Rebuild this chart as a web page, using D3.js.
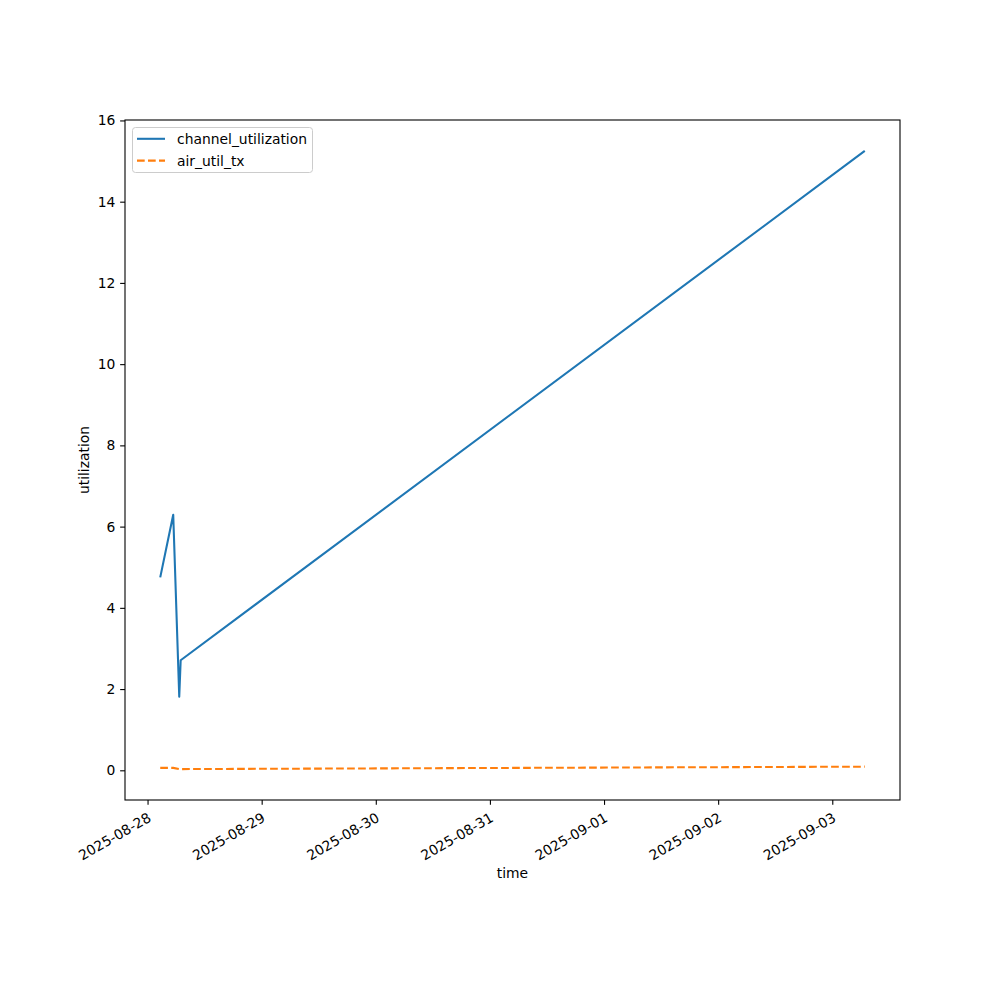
<!DOCTYPE html>
<html><head><meta charset="utf-8">
<script src="https://cdn.jsdelivr.net/npm/d3@7"></script>
<style>body{margin:0;background:#fff}svg{display:block}text{font-family:"DejaVu Sans",sans-serif}</style>
</head><body><svg id="c" width="1000" height="1000"></svg>
<script>
const times = ["2025-08-28T02:40:00Z","2025-08-28T05:24:00Z","2025-08-28T06:40:00Z","2025-08-28T06:58:00Z","2025-09-03T06:50:00Z"];
const channelUtilization = [4.75, 6.29, 1.81, 2.71, 15.25];
const airUtilTx = [0.06, 0.06, 0.03, 0.03, 0.09];
const xTicks = ["2025-08-28","2025-08-29","2025-08-30","2025-08-31","2025-09-01","2025-09-02","2025-09-03"];
const yTicks = [0,2,4,6,8,10,12,14,16];
const seriesNames = ["channel_utilization","air_util_tx"];

const svg = d3.select("#c");
const L=125,R=900,T=120,B=800;
const parsed = times.map(t=>new Date(t));
const tmin = d3.min(parsed), tmax = d3.max(parsed);
const span = tmax - tmin;
const x = d3.scaleUtc().domain([new Date(+tmin - 0.05*span), new Date(+tmax + 0.05*span)]).range([L,R]);
const all = channelUtilization.concat(airUtilTx);
const ymin = d3.min(all), ymax = d3.max(all), yr = ymax-ymin;
const y = d3.scaleLinear().domain([ymin-0.05*yr, ymax+0.05*yr]).range([B,T]);

const fs = 13.89;
const tk = 4.86;
// axes
const xa = svg.append("g").attr("transform",`translate(0,${B})`)
  .call(d3.axisBottom(x).tickValues(xTicks.map(d=>new Date(d+"T00:00:00Z"))).tickFormat(d3.utcFormat("%Y-%m-%d")).tickSizeOuter(0).tickSize(tk).tickPadding(tk));
xa.select(".domain").remove();
xa.selectAll("line").attr("stroke","#000").attr("stroke-width",1.1);
xa.selectAll("text").attr("font-size",fs).attr("fill","#000").attr("text-anchor","end")
  .attr("dy",null).attr("y",0)
  .attr("transform","translate(2,17) rotate(-30)").attr("dominant-baseline","middle");
const ya = svg.append("g").attr("transform",`translate(${L},0)`)
  .call(d3.axisLeft(y).tickValues(yTicks).tickFormat(d3.format("d")).tickSizeOuter(0).tickSize(tk).tickPadding(tk));
ya.select(".domain").remove();
ya.selectAll("line").attr("stroke","#000").attr("stroke-width",1.1);
ya.selectAll("text").attr("font-size",fs).attr("fill","#000");

// lines
const data = parsed.map((d,i)=>({t:d,c:channelUtilization[i],a:airUtilTx[i]}));
svg.append("clipPath").attr("id","cp").append("rect").attr("x",L).attr("y",T).attr("width",R-L).attr("height",B-T);
svg.append("path").datum(data).attr("clip-path","url(#cp)")
  .attr("d",d3.line().x(d=>x(d.t)).y(d=>y(d.c)))
  .attr("fill","none").attr("stroke","#1f77b4").attr("stroke-width",2.08).attr("stroke-linejoin","round").attr("stroke-linecap","butt");
svg.append("path").datum(data).attr("clip-path","url(#cp)")
  .attr("d",d3.line().x(d=>x(d.t)).y(d=>y(d.a)))
  .attr("fill","none").attr("stroke","#ff7f0e").attr("stroke-width",2.08).attr("stroke-dasharray","7.7,3.3").attr("stroke-linejoin","round");

// frame
svg.append("rect").attr("x",L).attr("y",T).attr("width",R-L).attr("height",B-T).attr("fill","none").attr("stroke","#000").attr("stroke-width",1.1);

// axis labels
svg.append("text").attr("x",(L+R)/2).attr("y",878).attr("text-anchor","middle").attr("font-size",fs).text("time");
svg.append("text").attr("transform",`translate(89,${(T+B)/2}) rotate(-90)`).attr("text-anchor","middle").attr("font-size",fs).text("utilization");

// legend
const lg = svg.append("g");
lg.append("rect").attr("x",132.5).attr("y",127.5).attr("width",180).attr("height",45).attr("rx",3)
  .attr("fill","#fff").attr("fill-opacity",0.8).attr("stroke","#ccc").attr("stroke-width",1);
const colors=["#1f77b4","#ff7f0e"], dashes=[null,"7.7,3.3"];
seriesNames.forEach((n,i)=>{
  const yy = 138.8 + i*21.8;
  lg.append("line").attr("x1",137).attr("x2",165).attr("y1",yy).attr("y2",yy).attr("stroke",colors[i]).attr("stroke-width",2.08).attr("stroke-dasharray",dashes[i]);
  lg.append("text").attr("x",177).attr("y",yy).attr("dominant-baseline","central").attr("font-size",fs).text(n);
});
</script></body></html>
